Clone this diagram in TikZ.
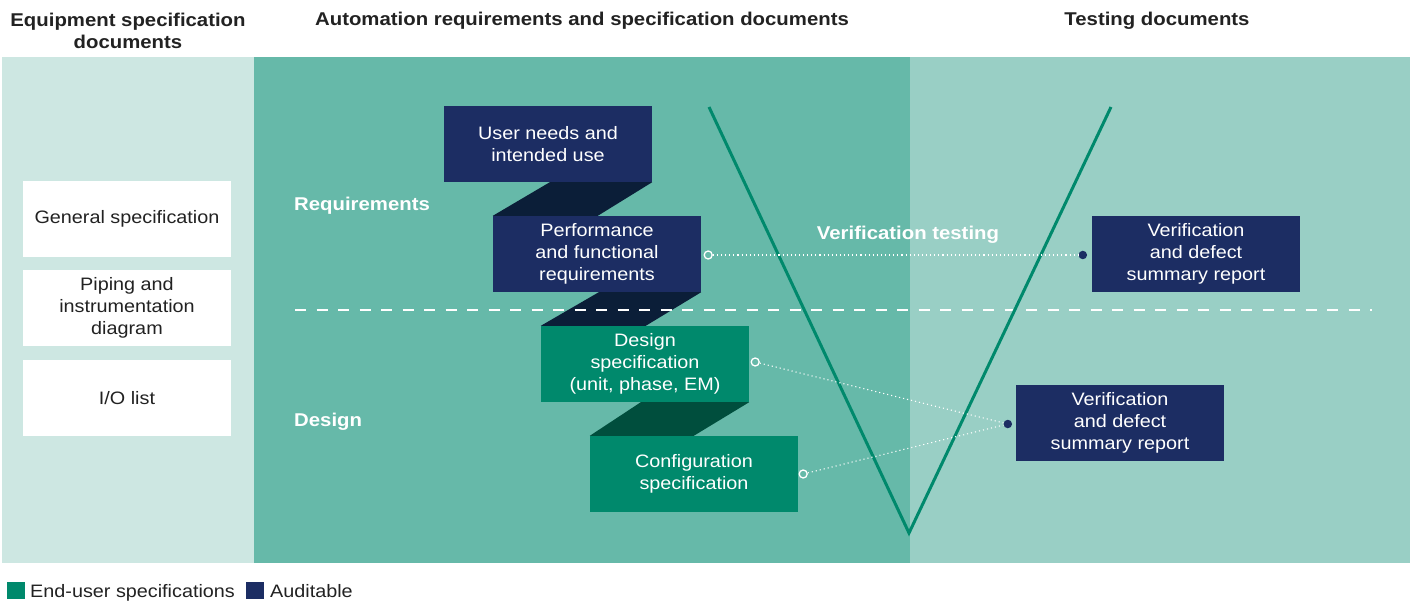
\documentclass[tikz,border=0pt]{standalone}
\usepackage{fontspec}
\setmainfont{Liberation Sans}[FakeStretch=1.1]
\usetikzlibrary{calc}
\definecolor{lpanel}{HTML}{CDE7E2}
\definecolor{mpanel}{HTML}{66B9A9}
\definecolor{rpanel}{HTML}{99CFC5}
\definecolor{gbox}{HTML}{00896C}
\definecolor{nbox}{HTML}{1C2D63}
\definecolor{nshadow}{HTML}{0B1E38}
\definecolor{gshadow}{HTML}{004E3D}
\definecolor{vline}{HTML}{00896C}
\definecolor{txtdark}{HTML}{222222}
\tikzset{
  body/.style={font=\fontsize{18}{21.8}\selectfont},
  hdr/.style={font=\bfseries\fontsize{18.5}{22}\selectfont, text=txtdark, align=center, inner sep=0},
  wbox/.style={body, fill=white, text=txtdark, minimum width=208pt, minimum height=76pt, inner sep=0, align=center},
  nvbox/.style={body, fill=nbox, text=white, minimum width=208pt, minimum height=76pt, inner sep=0, align=center},
  gnbox/.style={body, fill=gbox, text=white, minimum width=208pt, minimum height=76pt, inner sep=0, align=center},
  lbl/.style={font=\bfseries\fontsize{18.5}{21}\selectfont, text=white, inner sep=0},
  opencirc/.style={circle, draw=white, line width=1.3pt, fill=mpanel, minimum size=8pt, inner sep=0},
  navydot/.style={circle, fill=nbox, minimum size=8.5pt, inner sep=0},
  dotline/.style={white, line width=1.1pt, dash pattern=on 1.1pt off 3pt},
  legsq/.style={minimum width=18pt, minimum height=17pt, inner sep=0},
  legtxt/.style={font=\fontsize{18}{20}\selectfont, text=txtdark, inner sep=0, anchor=west}
}
\begin{document}
\begin{tikzpicture}[x=1pt,y=-1pt]
\useasboundingbox (0,0) rectangle (1414,604);
\fill[white] (0,0) rectangle (1414,604);
% panels
\fill[lpanel] (2,57) rectangle (254,563);
\fill[mpanel] (254,57) rectangle (910,563);
\fill[rpanel] (910,57) rectangle (1410,563);
% headers
\node[hdr] (h1) at (128,30.5) {Equipment specification\\documents};
\node[hdr] (h2) at (582,20.5) {Automation requirements and specification documents};
\node[hdr] (h3) at (1157,20.5) {Testing documents};
% left boxes
\node[wbox] (gs) at (127,219) {General specification};
\node[wbox] (pid) at (127,308) {Piping and\\instrumentation\\diagram};
\node[wbox] (io) at (127,398) {I/O list};
% main boxes
\node[nvbox] (un) at (548,144) {User needs and\\intended use};
\node[nvbox] (pf) at (597,254) {Performance\\and functional\\requirements};
\node[gnbox] (ds) at (645,364) {Design\\specification\\(unit, phase, EM)};
\node[gnbox] (cf) at (694,474) {Configuration\\specification};
\node[nvbox] (vr1) at (1196,254) {Verification\\and defect\\summary report};
\node[nvbox] (vr2) at (1120,423) {Verification\\and defect\\summary report};
% shadows
\fill[nshadow] ($(un.south west)+(106,0)$) -- (un.south east) -- ($(pf.north west)+(105,0)$) -- (pf.north west) -- cycle;
\fill[nshadow] ($(pf.south west)+(106,0)$) -- (pf.south east) -- ($(ds.north west)+(105,0)$) -- (ds.north west) -- cycle;
\fill[gshadow] ($(ds.south west)+(100,0)$) -- (ds.south east) -- ($(cf.north west)+(104,0)$) -- (cf.north west) -- cycle;
% dashed separator
\coordinate (dsL) at (295,310);
\coordinate (dsR) at (1372,310);
\draw[white, line width=2.6pt, dash pattern=on 11pt off 10.5pt] (dsL) -- (dsR);
% V
\coordinate (vL) at (709,107);
\coordinate (vB) at (909,533);
\coordinate (vR) at (1111,107);
\draw[vline, line width=3pt, line join=miter] (vL) -- (vB) -- (vR);
% labels
\node[lbl, anchor=west] (req) at (294,205.5) {Requirements};
\node[lbl, anchor=west] (des) at (294,421.5) {Design};
\node[lbl] (vt) at (908,235) {Verification testing};
% dotted connectors
\node[opencirc] (c1) at ($(pf.east)+(7,1)$) {};
\node[opencirc] (c2) at ($(ds.east)+(6,-2)$) {};
\node[opencirc] (c3) at ($(cf.east)+(5,0)$) {};
\node[navydot] (d1) at ($(vr1.west)+(-9,1)$) {};
\node[navydot] (d2) at ($(vr2.west)+(-8,1)$) {};
\draw[dotline] (c1) -- (d1);
\draw[dotline] (c2) -- (d2);
\draw[dotline] (c3) -- (d2);
% legend
\node[legsq, fill=gbox] (lg1) at (16,590.5) {};
\node[legtxt] (lt1) at (30,593) {End-user specifications};
\node[legsq, fill=nbox] (lg2) at (255,590.5) {};
\node[legtxt] (lt2) at (270,591) {Auditable};
\end{tikzpicture}
\end{document}
